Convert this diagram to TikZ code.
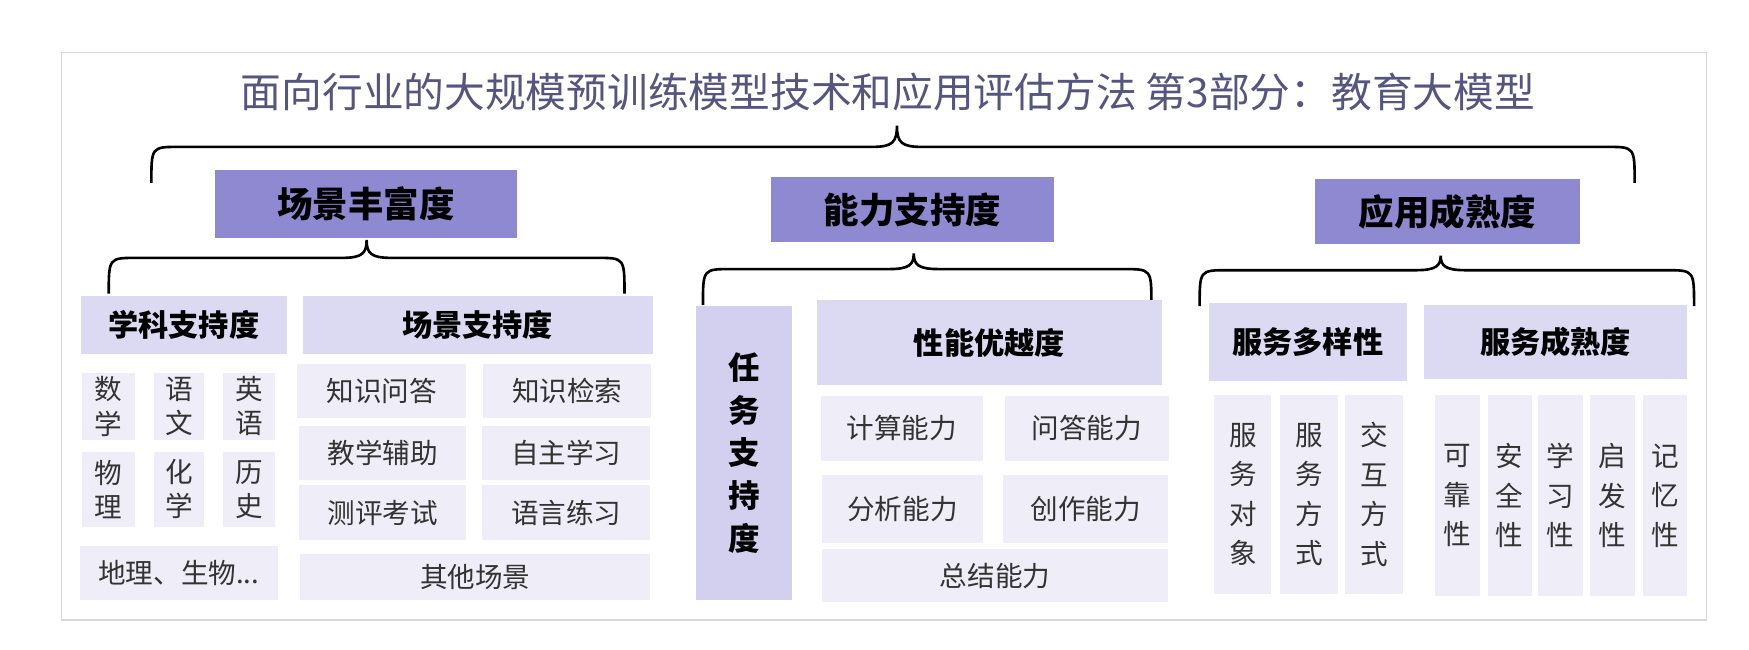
\documentclass[tikz,border=0pt]{standalone}
\usepackage{fontspec}
\setmainfont{Noto Sans CJK SC}
\definecolor{hdr}{HTML}{8E89D0}
\definecolor{sub}{HTML}{DCDAF2}
\definecolor{cellc}{HTML}{EEEDF8}
\definecolor{task}{HTML}{D3D0EF}
\definecolor{ttl}{HTML}{55557F}
\definecolor{frm}{HTML}{D8D8D8}
\newcommand{\bx}[7]{\node[#6, minimum width={(#4-#2)*0.03cm}, minimum height={(#5-#3)*0.03cm}] (#1) at ({(#2+#4)/2},{(#3+#5)/2}) {#7};}
\newcommand{\brc}[5]{%
\draw[brace] (#1,#4+32) .. controls (#1,#4) and (#1,#4) .. (#1+25,#4) -- (#3-22,#4) .. controls (#3-4,#4) and (#3,#4-4) .. (#3,#5)
 .. controls (#3,#4-4) and (#3+4,#4) .. (#3+22,#4) -- (#2-25,#4) .. controls (#2,#4) and (#2,#4) .. (#2,#4+32);}
\begin{document}
\begin{tikzpicture}[x=0.03cm,y=-0.03cm,
 hdrbox/.style={fill=hdr,inner sep=0,font=\fontsize{27}{32}\selectfont\bfseries},
 subbox/.style={fill=sub,inner sep=0,font=\fontsize{23}{28}\selectfont\bfseries},
 cellbox/.style={fill=cellc,inner sep=0,text=black!80,font=\fontsize{21}{26}\selectfont,align=center},
 vcell/.style={cellbox,font=\fontsize{21}{30}\selectfont},
 taskbox/.style={fill=task,inner sep=0,align=center,font=\fontsize{24}{32.5}\selectfont\bfseries},
 brace/.style={draw=black,line width=2pt}]
\useasboundingbox (0,0) rectangle (1560,579);
\draw[frm,line width=1pt] (55,47) rectangle (1522,553);
\node[text=ttl,font=\fontsize{31}{36}\selectfont] (title) at (792,82) {面向行业的大规模预训练模型技术和应用评估方法 第3部分：教育大模型};
\brc{135}{1458}{800}{131}{112}
\bx{h1}{192}{152}{461}{212}{hdrbox}{场景丰富度}
\bx{h2}{688}{158}{940}{216}{hdrbox}{能力支持度}
\bx{h3}{1173}{160}{1409}{218}{hdrbox}{应用成熟度}
\brc{97}{557}{327}{230}{214}
\brc{627}{1027}{815}{240}{226}
\brc{1070}{1511}{1285}{241}{228}
\bx{s1}{72}{264}{256}{316}{subbox}{学科支持度}
\bx{s2}{270}{264}{582}{316}{subbox}{场景支持度}
\bx{c1}{73}{333}{120}{392}{cellbox}{数\\学}
\bx{c2}{137}{333}{182}{392}{cellbox}{语\\文}
\bx{c3}{199}{333}{245}{392}{cellbox}{英\\语}
\bx{c4}{73}{403}{120}{470}{cellbox}{物\\理}
\bx{c5}{137}{403}{182}{470}{cellbox}{化\\学}
\bx{c6}{199}{403}{245}{470}{cellbox}{历\\史}
\bx{c7}{71}{487}{248}{535}{cellbox}{地理、生物...}
\bx{d1}{265}{325}{416}{373}{cellbox}{知识问答}
\bx{d2}{431}{325}{581}{373}{cellbox}{知识检索}
\bx{d3}{267}{380}{416}{428}{cellbox}{教学辅助}
\bx{d4}{430}{380}{580}{428}{cellbox}{自主学习}
\bx{d5}{267}{433}{416}{482}{cellbox}{测评考试}
\bx{d6}{430}{433}{580}{482}{cellbox}{语言练习}
\bx{d7}{268}{494}{580}{535}{cellbox}{其他场景}
\bx{t1}{621}{273}{706}{535}{taskbox}{任\\务\\支\\持\\度}
\bx{s3}{729}{268}{1036}{343}{subbox}{性能优越度}
\bx{e1}{732}{353}{877}{411}{cellbox}{计算能力}
\bx{e2}{896}{353}{1043}{411}{cellbox}{问答能力}
\bx{e3}{733}{424}{877}{484}{cellbox}{分析能力}
\bx{e4}{895}{424}{1042}{484}{cellbox}{创作能力}
\bx{e5}{733}{490}{1042}{537}{cellbox}{总结能力}
\bx{s4}{1078}{270}{1255}{340}{subbox}{服务多样性}
\bx{s5}{1270}{272}{1505}{338}{subbox}{服务成熟度}
\bx{f1}{1083}{352}{1134}{530}{vcell}{服\\务\\对\\象}
\bx{f2}{1142}{352}{1193}{530}{vcell}{服\\务\\方\\式}
\bx{f3}{1200}{352}{1251}{530}{vcell}{交\\互\\方\\式}
\bx{g1}{1280}{352}{1320}{532}{vcell}{可\\靠\\性}
\bx{g2}{1327}{352}{1366}{532}{vcell}{安\\全\\性}
\bx{g3}{1372}{352}{1412}{532}{vcell}{学\\习\\性}
\bx{g4}{1418}{352}{1458}{532}{vcell}{启\\发\\性}
\bx{g5}{1465}{352}{1505}{532}{vcell}{记\\忆\\性}
\end{tikzpicture}
\end{document}
